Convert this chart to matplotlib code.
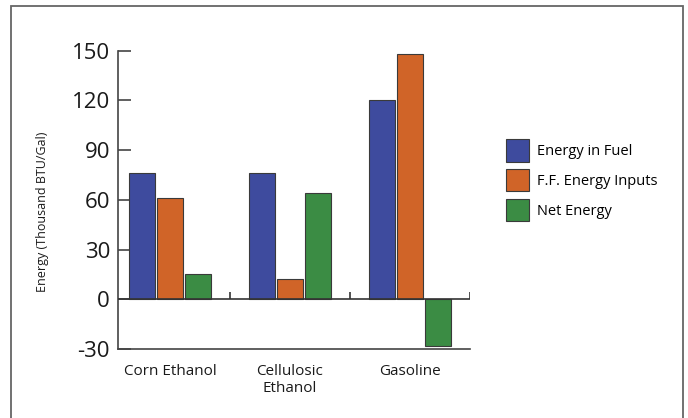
import numpy as np
import matplotlib.pyplot as plt
from matplotlib.patches import Rectangle

# values (thousand BTU per gallon)
categories = ["Corn Ethanol", "Cellulosic\nEthanol", "Gasoline"]
series_names = ["Energy in Fuel", "F.F. Energy Inputs", "Net Energy"]
energy_in_fuel = [76, 76.5, 120]
ff_energy_inputs = [61, 12, 148]
net_energy = [15.5, 64, -28]
y_ticks = [-30, 0, 30, 60, 90, 120, 150]

COLORS = ["#3e4b9e", "#d06428", "#3b8c44"]
FONT = "Open Sans"


def main():
    plt.rcParams['font.family'] = [FONT, 'DejaVu Sans']

    fig = plt.figure(figsize=(6.88, 4.18), dpi=100)
    ax = fig.add_axes([117.7 / 688, 1 - 349 / 418, (470 - 117.7) / 688, (349 - 50.7) / 418])

    x = np.arange(len(categories))
    width = 0.213
    step = 0.233
    all_series = [energy_in_fuel, ff_energy_inputs, net_energy]
    handles = []
    for i, vals in enumerate(all_series):
        b = ax.bar(x + (i - 1) * step, vals, width, color=COLORS[i],
                   edgecolor="#3a3a3a", linewidth=0.8, label=series_names[i], zorder=2)
        handles.append(b)

    ax.set_xlim(-0.436, 2.5)
    ax.set_ylim(-30, 150)
    ax.set_yticks(y_ticks)
    ax.set_yticklabels([str(t) for t in y_ticks])

    # zero line with little separators between groups
    ax.axhline(0, color="#333333", linewidth=1.2, zorder=3)
    ax.vlines([0.5, 1.5, 2.5], 0, 4.2, color="#333333", linewidth=1.2, zorder=3)

    for s in ["top", "right"]:
        ax.spines[s].set_visible(False)
    for s in ["left", "bottom"]:
        ax.spines[s].set_color("#444444")
        ax.spines[s].set_linewidth(1.2)

    ax.tick_params(axis="y", direction="in", length=9.4, width=1.2, color="#444444",
                   labelsize=16, pad=5.5, labelcolor="#1a1a1a")
    ax.set_xticks(x)
    ax.set_xticklabels(categories)
    ax.tick_params(axis="x", length=0, labelsize=11, pad=11, labelcolor="#1a1a1a")
    labels = ax.get_xticklabels()
    labels[0].set_x(-0.05)

    fig.text(43 / 688, 1 - 212 / 418, "Energy (Thousand BTU/Gal)", rotation=90,
             ha="center", va="center", fontsize=9, color="#1a1a1a")

    ax.legend(handles=handles, loc="upper left", bbox_to_anchor=(506 / 688, 1 - 139 / 418),
              bbox_transform=fig.transFigure, frameon=False, fontsize=10.5,
              handlelength=1.6, handleheight=2.0, labelspacing=0.5,
              handletextpad=0.55, borderaxespad=0, borderpad=0)

    # thin frame around the figure
    fig.patches.append(Rectangle((11 / 688, -0.1), (683 - 11) / 688, 1.1 - 6 / 418,
                                 transform=fig.transFigure, fill=False,
                                 edgecolor="#666666", linewidth=1.3))

    fig.savefig("out.png", dpi=100)


if __name__ == "__main__":
    main()
